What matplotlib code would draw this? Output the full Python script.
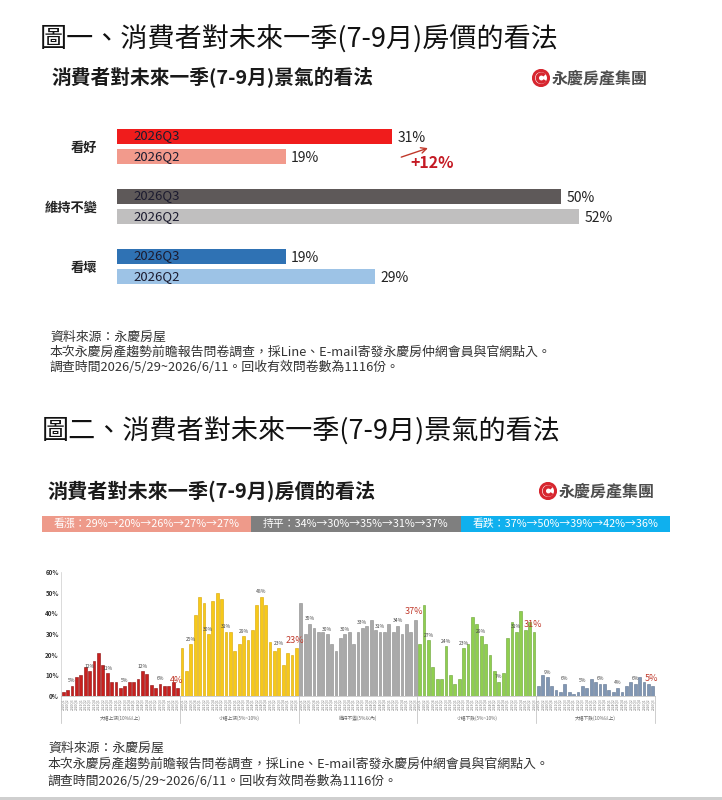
import numpy as np
import matplotlib.pyplot as plt
from matplotlib.patches import Circle, Arc, Rectangle

plt.rcParams['font.family'] = ['Noto Sans CJK TC', 'DejaVu Sans']

W, H = 722, 800

# ---- 圖一 資料 ----
top_cats = ['看好', '維持不變', '看壞']
top_q3 = [31, 50, 19]
top_q2 = [19, 52, 29]
top_q3_colors = ['#f01c1c', '#5e5959', '#2f72b4']
top_q2_colors = ['#f29a8c', '#c0bfbf', '#9dc3e6']

# ---- 圖二 資料 ----
band_names = ['看漲', '持平', '看跌']
band_values = [[29, 20, 26, 27, 27], [34, 30, 35, 31, 37], [37, 50, 39, 42, 36]]
band_colors = ['#ee9a8a', '#7f7f7f', '#0fb0ee']

group_names = ['大幅上漲(10%以上)', '小幅上漲(5%~10%)', '維持不變(5%以內)',
               '小幅下跌(5%~10%)', '大幅下跌(10%以上)']
big_up = [2, 3, 5, 9, 10, 14, 12, 17, 21, 15, 11, 7, 7, 4, 5, 7, 7, 8, 12, 10.5,
          5.5, 4, 6, 5, 5, 7, 4]
small_up = [23, 12, 25, 39, 48, 45, 30, 46, 50, 47, 31, 31, 22, 25, 29, 27, 32, 44,
            48, 44, 26, 22, 23, 15, 21, 20, 23]
flat = [45, 30, 35, 33, 31, 31, 30, 25, 22, 28, 30, 31, 25, 31, 33, 34, 37, 32, 31,
        31, 35, 31, 34, 30, 35, 31, 37]
small_down = [25, 44, 27, 14, 8, 8, 24, 10, 6, 8, 23, 25, 38, 35, 29, 25, 20, 12, 7,
              11, 28, 36, 31, 41, 32, 36, 31]
big_down = [5, 10, 9, 5, 3, 2, 6, 2, 1, 2, 5, 4, 8, 7, 6, 6, 3, 2, 4, 2, 5, 7, 6, 9,
            7, 6, 5]
groups = [big_up, small_up, flat, small_down, big_down]
group_fill = ['#c8201e', '#f6c919', '#a9a9a9', '#8fcf4f', '#8096b3']
group_edge = ['#8b0d0d', '#d9a400', '#8a8a8a', '#6aa336', '#5f7390']
quarters = [f'{y}Q{q}' for y in range(2020, 2027) for q in range(1, 5)][:27]
label_idx = [2, 6, 10, 14, 18, 22]

source_lines = ['資料來源：永慶房屋',
                '本次永慶房產趨勢前瞻報告問卷調查，採Line、E-mail寄發永慶房仲網會員與官網點入。',
                '調查時間2026/5/29~2026/6/11。回收有效問卷數為1116份。']


def box(x0, y0, x1, y1):
    return [x0 / W, 1 - y1 / H, (x1 - x0) / W, (y1 - y0) / H]


def fy(y):
    return 1 - y / H


def draw_logo(fig, x, y):
    """畫永慶房產集團標誌"""
    lax = fig.add_axes(box(x - 9, y - 9, x + 9, y + 9))
    lax.set_xlim(-1.1, 1.1)
    lax.set_ylim(-1.1, 1.1)
    lax.set_aspect('equal')
    lax.axis('off')
    lax.add_patch(Circle((0, 0), 0.92, fill=False, ec='#d7262f', lw=2.2))
    lax.add_patch(Arc((0.05, 0), 1.0, 1.0, theta1=40, theta2=330, ec='#d7262f', lw=2.4))
    fig.text((x + 11) / W, fy(y), '永慶房產集團', fontsize=11.5, fontweight='bold',
             color='#4d4d4d', va='center', ha='left')


fig = plt.figure(figsize=(W / 100, H / 100), dpi=100)
fig.patch.set_facecolor('white')

# ================= 圖一 =================
fig.text(40 / W, fy(40), '圖一、消費者對未來一季(7-9月)房價的看法', fontsize=19.5,
         fontweight='light', color='#111111', va='center', ha='left')
fig.text(52 / W, fy(78), '消費者對未來一季(7-9月)景氣的看法', fontsize=14.2,
         fontweight='bold', color='#1a1a1a', va='center', ha='left')
draw_logo(fig, 541, 78)

ax1 = fig.add_axes(box(117, 115, 650, 295))
ax1.set_xlim(0, 60)
ax1.set_ylim(2.483, -0.517)
pos = np.arange(len(top_cats))
ax1.barh(pos - 0.167, top_q3, height=0.25, color=top_q3_colors)
ax1.barh(pos + 0.167, top_q2, height=0.25, color=top_q2_colors)
for i in range(len(top_cats)):
    for off, val, name in [(-0.167, top_q3[i], '2026Q3'), (0.167, top_q2[i], '2026Q2')]:
        ax1.text(1.8, i + off, name, fontsize=9.5, color='#1c1c30', va='center', ha='left')
        ax1.text(val + 0.6, i + off + 0.03, f'{val}%', fontsize=10, color='#222222',
                 va='center', ha='left')
ax1.set_yticks(pos)
ax1.set_yticklabels(top_cats, fontsize=9.5, fontweight='bold', color='#222222')
ax1.tick_params(axis='y', length=0, pad=14)
ax1.set_xticks([])
for s in ax1.spines.values():
    s.set_visible(False)
# 增幅標註
diff = top_q3[0] - top_q2[0]
ax1.annotate('', xy=(top_q3[0] + 4.3, 0.02), xytext=(top_q3[0] + 0.7, 0.2),
             arrowprops=dict(arrowstyle='->', color='#c0392b', lw=1))
ax1.text(top_q3[0] + 2, 0.28, f'+{diff}%', fontsize=11.5, fontweight='bold',
         color='#c41a24', va='center', ha='left')

for k, line in enumerate(source_lines):
    fig.text(50 / W, fy(337 + 15 * k), line, fontsize=9.3, color='#333333',
             va='center', ha='left')

# ================= 圖二 =================
fig.text(42 / W, fy(432), '圖二、消費者對未來一季(7-9月)景氣的看法', fontsize=19.5,
         fontweight='light', color='#111111', va='center', ha='left')
fig.text(48 / W, fy(491), '消費者對未來一季(7-9月)房價的看法', fontsize=14.5,
         fontweight='bold', color='#1a1a1a', va='center', ha='left')
draw_logo(fig, 548, 491)

# 頂部色帶
axb = fig.add_axes(box(42, 516, 670, 532))
axb.set_xlim(0, 3)
axb.set_ylim(0, 1)
axb.axis('off')
axb.barh([0.5] * 3, [1] * 3, left=range(3), height=1, color=band_colors)
for i, (name, vals) in enumerate(zip(band_names, band_values)):
    txt = name + '：' + '→'.join(f'{v}%' for v in vals)
    axb.text(i + 0.5, 0.5, txt, fontsize=7.8, color='white', va='center', ha='center')

# 長條圖
ax2 = fig.add_axes(box(61, 572, 655, 696))
n = len(quarters)
for g, vals in enumerate(groups):
    x = np.arange(n) + g * n
    ax2.bar(x, vals, width=0.6, color=group_fill[g], edgecolor=group_edge[g], lw=0.4)
    for j in label_idx:
        ax2.text(x[j], vals[j] + 1.2, f'{vals[j]:.0f}%', fontsize=3.6, color='#444444',
                 ha='center', va='bottom')
    ax2.text(x[-1] - 0.3, vals[-1] + 1.5, f'{vals[-1]:.0f}%', fontsize=6.5,
             color='#c0392b', ha='center', va='bottom')
    ax2.text(g * n + (n - 1) / 2, -0.18, group_names[g], fontsize=3.4, color='#666666',
             ha='center', va='center', transform=ax2.get_xaxis_transform())
total = n * len(groups)
for b in range(len(groups) + 1):
    ax2.plot([b * n - 0.5] * 2, [0, -0.22], color='#bbbbbb', lw=0.5, clip_on=False,
             transform=ax2.get_xaxis_transform())
ax2.set_xlim(-0.5, total - 0.5)
ax2.set_ylim(0, 60)
ax2.set_yticks(range(0, 61, 10))
ax2.set_yticklabels([f'{v}%' for v in range(0, 61, 10)], fontsize=4.5,
                    fontweight='bold', color='#333333')
ax2.set_xticks(range(total))
ax2.set_xticklabels(quarters * len(groups), rotation=90, fontsize=2.4, color='#777777')
ax2.tick_params(length=0, pad=1.5)
ax2.spines['top'].set_visible(False)
ax2.spines['right'].set_visible(False)
ax2.spines['left'].set_color('#cccccc')
ax2.spines['left'].set_linewidth(0.5)
ax2.spines['bottom'].set_color('#bbbbbb')
ax2.spines['bottom'].set_linewidth(0.5)

for k, line in enumerate(source_lines):
    fig.text(48 / W, fy(748 + 16.5 * k), line, fontsize=9.3, color='#333333',
             va='center', ha='left')

fig.add_artist(Rectangle((0, 0), 1, 3 / H, transform=fig.transFigure,
                         color='#cfcfcf', lw=0))

fig.savefig('out.png', dpi=100)
